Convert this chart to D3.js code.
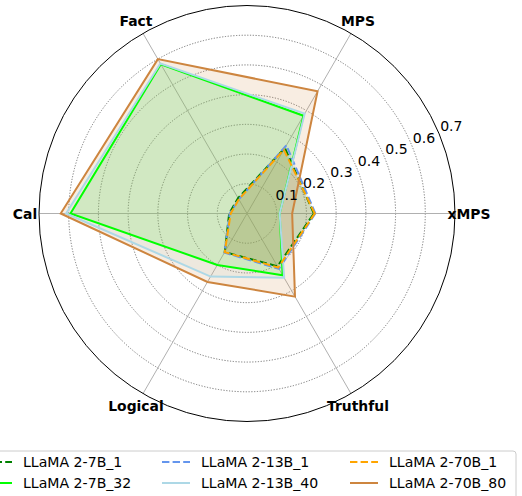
<html>
<head>
<script src="https://d3js.org/d3.v7.min.js"></script>
<style>
  body { margin: 0; background: #fff; }
  text { font-family: "DejaVu Sans", sans-serif; font-size: 14.1px; fill: #000; }
  .cat { font-weight: 700; font-size: 13.9px; }
</style>
</head>
<body>
<div id="chart"></div>
<script>
// axes of the radar, counter-clockwise from the right
var categories = ["xMPS", "MPS", "Fact", "Cal", "Logical", "Truthful"];
var rTicks = [0.1, 0.2, 0.3, 0.4, 0.5, 0.6, 0.7];

var seriesNames = ["LLaMA 2-7B_1", "LLaMA 2-7B_32", "LLaMA 2-13B_1", "LLaMA 2-13B_40", "LLaMA 2-70B_1", "LLaMA 2-70B_80"];
var llama7b_1   = [0.225, 0.255, 0.060, 0.060, 0.150, 0.205];
var llama7b_32  = [0.110, 0.380, 0.580, 0.594, 0.200, 0.240];
var llama13b_1  = [0.230, 0.265, 0.055, 0.058, 0.152, 0.215];
var llama13b_40 = [0.110, 0.388, 0.583, 0.609, 0.245, 0.250];
var llama70b_1  = [0.228, 0.248, 0.055, 0.055, 0.150, 0.210];
var llama70b_80 = [0.152, 0.475, 0.600, 0.627, 0.266, 0.323];
var seriesValues = [llama7b_1, llama7b_32, llama13b_1, llama13b_40, llama70b_1, llama70b_80];

var colors = ["#008000", "#00ff00", "#6495ed", "#add8e6", "#ffa500", "#cd853f"];
var dashed = [true, false, true, false, true, false];

var W = 522, H = 496;
var cx = 247, cy = 213.5, R = 208;

var svg = d3.select("#chart").append("svg").attr("width", W).attr("height", H);
var g = svg.append("g").attr("transform", "translate(" + cx + "," + cy + ")");

var r = d3.scaleLinear().domain([0, 0.7]).range([0, R]);
// d3 radial angle: clockwise from 12 o'clock
var angle = d3.scaleLinear().domain([0, categories.length]).range([Math.PI / 2, Math.PI / 2 - 2 * Math.PI]);

// grid circles
g.selectAll(".ring").data(rTicks.slice(0, -1)).enter().append("circle")
  .attr("r", function(d){ return r(d); })
  .attr("fill", "none").attr("stroke", "#666").attr("stroke-width", 0.9)
  .attr("stroke-dasharray", "1.2,1.6");

// spokes
g.selectAll(".spoke").data(categories).enter().append("line")
  .attr("x1", 0).attr("y1", 0)
  .attr("x2", function(d, i){ return r(0.7) * Math.sin(angle(i)); })
  .attr("y2", function(d, i){ return -r(0.7) * Math.cos(angle(i)); })
  .attr("stroke", "#b0b0b0").attr("stroke-width", 1);

// series
var radar = d3.lineRadial()
  .angle(function(d, i){ return angle(i); })
  .radius(function(d){ return r(d); })
  .curve(d3.curveLinearClosed);

seriesValues.forEach(function(vals, k){
  g.append("path").attr("d", radar(vals))
    .attr("fill", colors[k]).attr("fill-opacity", 0.15).attr("stroke", "none");
});
seriesValues.forEach(function(vals, k){
  g.append("path").attr("d", radar(vals))
    .attr("fill", "none").attr("stroke", colors[k]).attr("stroke-width", 2)
    .attr("stroke-linejoin", "miter")
    .attr("stroke-dasharray", dashed[k] ? "7.4,3.2" : null);
});

// outer frame
g.append("circle").attr("r", r(0.7)).attr("fill", "none").attr("stroke", "#000").attr("stroke-width", 1);

// radial tick labels at 22.5 deg
var la = 22.5 * Math.PI / 180;
g.selectAll(".rlab").data(rTicks).enter().append("text")
  .attr("x", function(d){ return r(d) * Math.cos(la) + 1; })
  .attr("y", function(d){ return -r(d) * Math.sin(la) - 2.5; })
  .text(function(d){ return d3.format(".1f")(d); });

// category labels
g.selectAll(".cat").data(categories).enter().append("text")
  .attr("class", "cat")
  .attr("x", function(d, i){ return 222 * Math.sin(angle(i)); })
  .attr("y", function(d, i){ return -222 * Math.cos(angle(i)); })
  .attr("text-anchor", "middle").attr("dominant-baseline", "central")
  .text(function(d){ return d; });

// legend (3 columns, filled column-wise)
var legend = svg.append("g");
legend.append("rect").attr("x", -30).attr("y", 451).attr("width", 546).attr("height", 60)
  .attr("rx", 3).attr("fill", "#fff").attr("fill-opacity", 0.8).attr("stroke", "#cccccc").attr("stroke-width", 1);
var colX = [-16, 162, 350];
var rowY = [462, 483];
seriesNames.forEach(function(name, k){
  var c = Math.floor(k / 2), row = k % 2;
  var x0 = colX[c], y0 = rowY[row];
  legend.append("line").attr("x1", x0).attr("x2", x0 + 28).attr("y1", y0).attr("y2", y0)
    .attr("stroke", colors[k]).attr("stroke-width", 2)
    .attr("stroke-dasharray", dashed[k] ? "7.4,3.2" : null);
  legend.append("text").attr("x", x0 + 39).attr("y", y0).attr("dominant-baseline", "central").text(name);
});
</script>
</body>
</html>
